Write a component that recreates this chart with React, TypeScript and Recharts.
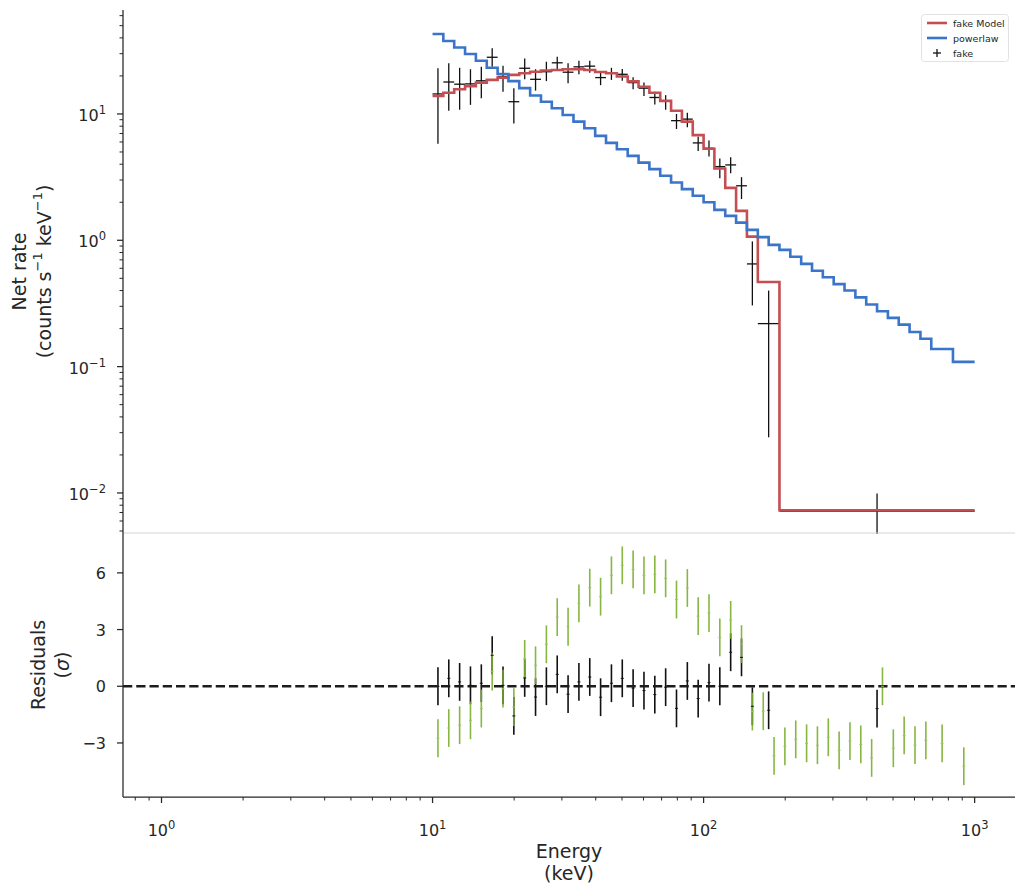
import React from "react";
import {
  ComposedChart,
  ErrorBar,
  Line,
  ReferenceLine,
  Scatter,
  XAxis,
  YAxis,
} from "recharts";

const FONT = "'DejaVu Sans', sans-serif";
const INK = "#262626";
const RED = "#c44e52";
const BLUE = "#3a75c9";
const GREEN = "#7aae2c";

// energy bin edges (keV) of the rebinned "fake" spectrum
const dataEdges = [
  10, 10.96, 12.02, 13.18, 14.45, 15.85, 17.38, 19.05, 20.89, 22.91, 25.12,
  27.54, 30.2, 33.11, 36.31, 39.81, 43.65, 47.86, 52.48, 57.54, 63.1, 69.18,
  75.86, 83.18, 91.2, 100, 109.6, 120.2, 131.8, 144.5, 158.5, 190.5, 1000,
];

// net rate of the fake data, with lower / upper ends of the error bars
const fakeRate = [
  14.4, 17.9, 17.2, 17.3, 18.3, 28.1, 19.8, 12.5, 23.0, 18.8, 21.6, 25.4, 21.4,
  23.6, 23.9, 19.4, 21.0, 20.6, 17.7, 16.0, 13.5, 12.7, 8.85, 9.1, 5.9, 5.35,
  3.83, 3.95, 2.7, 0.65, 0.219, 0.0072,
];
const fakeRateLow = [
  5.8, 10.6, 10.8, 11.8, 13.3, 23.6, 15.0, 8.4, 18.8, 15.3, 18.2, 22.6, 17.5,
  20.6, 21.2, 16.9, 18.6, 18.3, 15.7, 13.9, 11.9, 10.8, 7.6, 7.85, 5.1, 4.6,
  3.1, 3.4, 2.12, 0.305, 0.0276, 0.0045,
];
const fakeRateHigh = [
  23.0, 25.2, 23.2, 22.6, 23.6, 33.1, 24.1, 16.0, 27.5, 22.6, 25.9, 28.4, 25.2,
  26.4, 26.4, 21.6, 23.2, 22.7, 19.5, 17.7, 15.0, 14.1, 10.0, 10.2, 6.6, 6.15,
  4.45, 4.55, 3.16, 0.98, 0.4, 0.0099,
];

// fitted model folded on the data bins
const modelRate = [
  13.9, 14.7, 15.7, 16.6, 17.7, 18.6, 19.4, 20.4, 21.0, 21.6, 22.1, 22.3, 22.6,
  22.6, 22.3, 21.5, 21.0, 19.8, 18.1, 16.4, 14.7, 12.7, 10.6, 8.7, 6.8, 5.3,
  3.7, 2.6, 1.71, 1.07, 0.468, 0.0073,
];

// powerlaw bins (keV) and rate
const powerlawEdges = [
  10, 10.96, 12.02, 13.18, 14.45, 15.85, 17.38, 19.05, 20.89, 22.91, 25.12,
  27.54, 30.2, 33.11, 36.31, 39.81, 43.65, 47.86, 52.48, 57.54, 63.1, 69.18,
  75.86, 83.18, 91.2, 100, 109.6, 120.2, 131.8, 144.5, 158.5, 173.8, 190.5,
  208.9, 229.1, 251.2, 275.4, 302, 331.1, 363.1, 398.1, 436.5, 478.6, 524.8,
  575.4, 631, 691.8, 831.8, 1000,
];
const powerlawRate = [
  42.9, 37.8, 33.6, 29.8, 26.4, 23.2, 20.7, 18.2, 16.0, 14.0, 12.5, 11.1, 9.8,
  8.7, 7.7, 6.7, 5.9, 5.26, 4.66, 4.12, 3.66, 3.24, 2.87, 2.54, 2.25, 2.0, 1.74,
  1.56, 1.38, 1.21, 1.06, 0.92, 0.84, 0.74, 0.65, 0.574, 0.51, 0.45, 0.4,
  0.353, 0.31, 0.274, 0.243, 0.215, 0.188, 0.166, 0.138, 0.109,
];

// residuals in sigma
const fakeResidual = [
  0.0, 0.42, 0.23, 0.05, 0.16, 1.64, 0.05, -1.57, 0.44, -0.57, 0.0, 0.63,
  -0.42, 0.23, 0.49, -0.58, 0.16, 0.42, -0.1, -0.23, -0.44, -0.05, -1.17, 0.28,
  -0.65, 0.19, 0.0, 1.8, 1.53, -1.06, -1.27, -1.18,
];
const powerlawResidual = [
  -2.75, -2.21, -2.06, -1.8, -1.18, 0.77, -0.13, -1.1, 1.45, 1.11, 2.22, 3.66,
  3.15, 4.39, 5.22, 4.74, 5.87, 6.4, 6.18, 5.87, 5.92, 5.71, 4.59, 5.2, 3.71,
  3.87, 2.59, 3.51, 2.23, -1.34, -1.32, -3.68, -3.18, -2.81, -3.02, -3.12,
  -2.7, -3.39, -2.9, -3.08, -3.79, 0.0, -3.28, -2.6, -3.12, -2.86, -3.02,
  -4.23,
];

const xMajorTicks = [1, 10, 100, 1000];
const xMinorTicks = [
  0.8, 0.9, 2, 3, 4, 5, 6, 7, 8, 9, 20, 30, 40, 50, 60, 70, 80, 90, 200, 300,
  400, 500, 600, 700, 800, 900,
];
const rateMajorTicks = [0.01, 0.1, 1, 10];
const rateMinorTicks = [
  0.005, 0.006, 0.007, 0.008, 0.009, 0.02, 0.03, 0.04, 0.05, 0.06, 0.07, 0.08,
  0.09, 0.2, 0.3, 0.4, 0.5, 0.6, 0.7, 0.8, 0.9, 2, 3, 4, 5, 6, 7, 8, 9, 20, 30,
  40, 50, 60,
];
const residualTicks = [-3, 0, 3, 6];

const X_DOMAIN = [0.721, 1409];
const RATE_DOMAIN = [0.00482, 66.5];
const RESID_DOMAIN = [-5.86, 8.11];

const stepPoints = (edges: number[], values: number[]) =>
  edges.map((e, i) => ({ e, v: values[Math.min(i, values.length - 1)] }));

const binCenter = (edges: number[], i: number) =>
  Math.sqrt(edges[i] * edges[i + 1]);

const modelLine = stepPoints(dataEdges, modelRate);
const powerlawLine = stepPoints(powerlawEdges, powerlawRate);

const fakePoints = fakeRate.map((v, i) => {
  const lo = dataEdges[i];
  const hi = dataEdges[i + 1];
  const e = binCenter(dataEdges, i);
  return {
    e,
    v,
    ex: [e - lo, hi - e],
    ey: [v - fakeRateLow[i], fakeRateHigh[i] - v],
  };
});

const fakeResidPoints = fakeResidual.map((v, i) => ({
  e: binCenter(dataEdges, i),
  v,
  ey: 1,
}));
const powerlawResidPoints = powerlawResidual.map((v, i) => ({
  e: binCenter(powerlawEdges, i),
  v,
  ey: 1,
}));

const expText = (n: number) => (n < 0 ? `\u2212${-n}` : `${n}`);

const LogXTick = (props: any) => {
  const { x, y, payload } = props;
  const v = payload.value;
  const major = xMajorTicks.includes(v);
  return (
    <g>
      <line x1={x} x2={x} y1={y} y2={y + (major ? 6 : 3.5)} stroke={INK} strokeWidth={major ? 1.25 : 1} />
      {major && (
        <text x={x} y={y + 39} textAnchor="middle" fontSize={16} fill={INK} fontFamily={FONT}>
          10
          <tspan dy={-7} fontSize={11.5}>
            {expText(Math.round(Math.log10(v)))}
          </tspan>
        </text>
      )}
    </g>
  );
};

const LogYTick = (props: any) => {
  const { x, y, payload } = props;
  const v = payload.value;
  const major = rateMajorTicks.includes(v);
  return (
    <g>
      <line x1={x} x2={x - (major ? 6 : 3.5)} y1={y} y2={y} stroke={INK} strokeWidth={major ? 1.25 : 1} />
      {major && (
        <text x={x - 17} y={y + 7} textAnchor="end" fontSize={16} fill={INK} fontFamily={FONT}>
          10
          <tspan dy={-7} fontSize={11.5}>
            {expText(Math.round(Math.log10(v)))}
          </tspan>
        </text>
      )}
    </g>
  );
};

const LinYTick = (props: any) => {
  const { x, y, payload } = props;
  return (
    <g>
      <line x1={x} x2={x - 6} y1={y} y2={y} stroke={INK} strokeWidth={1.25} />
      <text x={x - 17} y={y + 6} textAnchor="end" fontSize={16} fill={INK} fontFamily={FONT}>
        {payload.value < 0 ? `\u2212${-payload.value}` : payload.value}
      </text>
    </g>
  );
};

const RateLabel = (props: any) => {
  const vb = props.viewBox;
  const cy = vb.y + vb.height / 2;
  return (
    <g fontFamily={FONT} fontSize={19} fill={INK}>
      <text x={19} y={cy} transform={`rotate(-90, 19, ${cy})`} textAnchor="middle" dominantBaseline="central">
        Net rate
      </text>
      <text x={44} y={cy} transform={`rotate(-90, 44, ${cy})`} textAnchor="middle" dominantBaseline="central">
        (counts s
        <tspan dy={-7} fontSize={13}>{"\u22121"}</tspan>
        <tspan dy={7}> keV</tspan>
        <tspan dy={-7} fontSize={13}>{"\u22121"}</tspan>
        <tspan dy={7}>)</tspan>
      </text>
    </g>
  );
};

const ResidLabel = (props: any) => {
  const vb = props.viewBox;
  const cy = vb.y + vb.height / 2;
  return (
    <g fontFamily={FONT} fontSize={19} fill={INK}>
      <text x={38} y={cy} transform={`rotate(-90, 38, ${cy})`} textAnchor="middle" dominantBaseline="central">
        Residuals
      </text>
      <text x={62} y={cy} transform={`rotate(-90, 62, ${cy})`} textAnchor="middle" dominantBaseline="central">
        (<tspan fontStyle="italic">σ</tspan>)
      </text>
    </g>
  );
};

// x label sits under the tick labels of the residual panel
const EnergyLabel = (props: any) => {
  const vb = props.viewBox;
  const cx = vb.x + vb.width / 2;
  const top = vb.y;
  return (
    <g fontFamily={FONT} fontSize={19} fill={INK}>
      <text x={cx} y={top + 61} textAnchor="middle">Energy</text>
      <text x={cx} y={top + 83} textAnchor="middle">(keV)</text>
    </g>
  );
};

const noMark = () => <g />;

const tinyCross = (color: string) => (p: any) => (
  <g stroke={color} strokeWidth={1}>
    <line x1={p.cx - 1.5} x2={p.cx + 1.5} y1={p.cy} y2={p.cy} />
  </g>
);

function LegendBox() {
  return (
    <svg
      width={88}
      height={48}
      style={{ position: "absolute", left: 921, top: 14 }}
      fontFamily={FONT}
      fontSize={9.5}
    >
      <rect x={0.5} y={0.5} width={87} height={47} rx={3} fill="white" fillOpacity={0.8} stroke="#e2e2e2" />
      <line x1={6} x2={26} y1={9} y2={9} stroke={RED} strokeWidth={2.6} />
      <text x={32} y={12.5} fill={INK}>fake Model</text>
      <line x1={6} x2={26} y1={24} y2={24} stroke={BLUE} strokeWidth={2.6} />
      <text x={32} y={27.5} fill={INK}>powerlaw</text>
      <line x1={12} x2={20} y1={39} y2={39} stroke="#111" strokeWidth={1.3} />
      <line x1={16} x2={16} y1={35} y2={43} stroke="#111" strokeWidth={1.3} />
      <text x={32} y={42.5} fill={INK}>fake</text>
    </svg>
  );
}

export default function App() {
  return (
    <div
      style={{
        position: "absolute",
        left: 0,
        top: 0,
        width: 1024,
        height: 894,
        background: "white",
        fontFamily: FONT,
      }}
    >
      <div style={{ position: "absolute", left: 0, top: 0 }}>
        <ComposedChart width={1024} height={534} margin={{ top: 10, right: 9, bottom: 0, left: 0 }}>
          <XAxis
            type="number"
            dataKey="e"
            scale="log"
            domain={X_DOMAIN}
            allowDataOverflow
            height={1}
            tick={false}
            tickLine={false}
            axisLine={{ stroke: "#d4d4d4", strokeWidth: 1 }}
          />
          <YAxis
            type="number"
            dataKey="v"
            scale="log"
            domain={RATE_DOMAIN}
            allowDataOverflow
            width={123}
            ticks={[...rateMinorTicks, ...rateMajorTicks]}
            interval={0}
            tick={LogYTick}
            tickSize={0}
            tickMargin={0}
            tickLine={false}
            axisLine={{ stroke: INK, strokeWidth: 1.25 }}
            label={RateLabel}
          />
          <Scatter data={fakePoints} dataKey="v" shape={noMark} isAnimationActive={false}>
            <ErrorBar dataKey="ey" direction="y" width={0} stroke="#111" strokeWidth={1.3} />
            <ErrorBar dataKey="ex" direction="x" width={0} stroke="#111" strokeWidth={1.3} />
          </Scatter>
          <Line
            data={modelLine}
            dataKey="v"
            type="stepAfter"
            stroke={RED}
            strokeWidth={2.6}
            dot={false}
            activeDot={false}
            isAnimationActive={false}
          />
          <Line
            data={powerlawLine}
            dataKey="v"
            type="stepAfter"
            stroke={BLUE}
            strokeWidth={2.6}
            dot={false}
            activeDot={false}
            isAnimationActive={false}
          />
        </ComposedChart>
      </div>

      <div style={{ position: "absolute", left: 0, top: 533 }}>
        <ComposedChart width={1024} height={361} margin={{ top: 0, right: 9, bottom: 0, left: 0 }}>
          <XAxis
            type="number"
            dataKey="e"
            scale="log"
            domain={X_DOMAIN}
            allowDataOverflow
            height={97}
            ticks={[...xMinorTicks, ...xMajorTicks]}
            interval={0}
            tick={LogXTick}
            tickSize={0}
            tickMargin={0}
            tickLine={false}
            axisLine={{ stroke: INK, strokeWidth: 1.25 }}
            label={EnergyLabel}
          />
          <YAxis
            type="number"
            dataKey="v"
            domain={RESID_DOMAIN}
            allowDataOverflow
            width={123}
            ticks={residualTicks}
            interval={0}
            tick={LinYTick}
            tickSize={0}
            tickMargin={0}
            tickLine={false}
            axisLine={{ stroke: INK, strokeWidth: 1.25 }}
            label={ResidLabel}
          />
          <Scatter data={fakeResidPoints} dataKey="v" shape={tinyCross("#111")} isAnimationActive={false}>
            <ErrorBar dataKey="ey" direction="y" width={0} stroke="#111" strokeWidth={1.6} />
          </Scatter>
          <Scatter data={powerlawResidPoints} dataKey="v" shape={tinyCross("#9cc566")} isAnimationActive={false}>
            <ErrorBar dataKey="ey" direction="y" width={0} stroke={GREEN} strokeWidth={1.6} strokeOpacity={0.9} />
          </Scatter>
          <ReferenceLine y={0} stroke="#1c1c1c" strokeWidth={2.5} strokeDasharray="9.25 4" />
        </ComposedChart>
      </div>

      <LegendBox />
    </div>
  );
}
